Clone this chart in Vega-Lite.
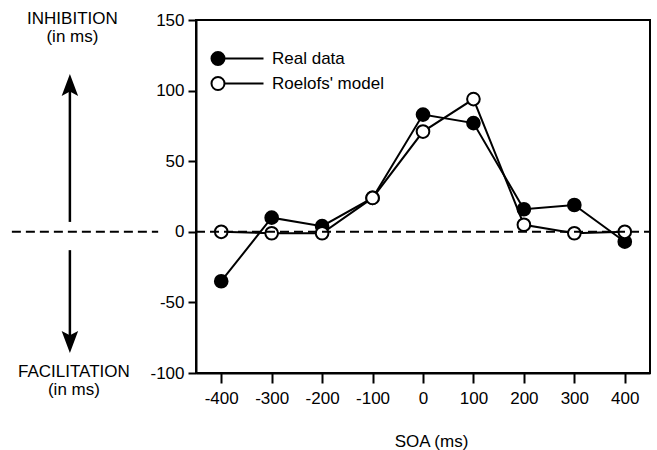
{
  "$schema": "https://vega.github.io/schema/vega-lite/v6.json",
  "width": 454,
  "height": 353,
  "autosize": {"type": "none"},
  "padding": {"left": 196, "top": 20, "right": 7, "bottom": 77},
  "background": "white",
  "config": {
    "view": {"stroke": "black", "strokeWidth": 2},
    "font": "Liberation Sans",
    "axis": {
      "grid": false,
      "domainColor": "black",
      "domainWidth": 2,
      "tickColor": "black",
      "tickWidth": 2,
      "labelColor": "black",
      "labelFont": "Liberation Sans",
      "labelFontSize": 17,
      "titleColor": "black",
      "titleFont": "Liberation Sans",
      "titleFontWeight": "normal"
    }
  },
  "data": {
    "values": [
      {"soa": -400, "value": -35, "series": "Real data"},
      {"soa": -300, "value": 10, "series": "Real data"},
      {"soa": -200, "value": 4, "series": "Real data"},
      {"soa": -100, "value": 24, "series": "Real data"},
      {"soa": 0, "value": 83, "series": "Real data"},
      {"soa": 100, "value": 77, "series": "Real data"},
      {"soa": 200, "value": 16, "series": "Real data"},
      {"soa": 300, "value": 19, "series": "Real data"},
      {"soa": 400, "value": -7, "series": "Real data"},
      {"soa": -400, "value": 0, "series": "Roelofs' model"},
      {"soa": -300, "value": -1, "series": "Roelofs' model"},
      {"soa": -200, "value": -1, "series": "Roelofs' model"},
      {"soa": -100, "value": 24, "series": "Roelofs' model"},
      {"soa": 0, "value": 71, "series": "Roelofs' model"},
      {"soa": 100, "value": 94, "series": "Roelofs' model"},
      {"soa": 200, "value": 5, "series": "Roelofs' model"},
      {"soa": 300, "value": -1, "series": "Roelofs' model"},
      {"soa": 400, "value": 0, "series": "Roelofs' model"}
    ]
  },
  "layer": [
    {
      "mark": {"type": "line", "color": "black", "strokeWidth": 2},
      "encoding": {
        "x": {
          "field": "soa", "type": "quantitative",
          "scale": {"domain": [-450, 450], "nice": false, "zero": false},
          "axis": {
            "values": [-400, -300, -200, -100, 0, 100, 200, 300, 400],
            "labelExpr": "replace(datum.label, '\u2212', '-')",
            "tickSize": 10,
            "labelPadding": 7,
            "title": "SOA  (ms)",
            "titleFontSize": 17,
            "titleX": 235,
            "titleY": 73,
            "titleBaseline": "alphabetic",
            "titleAlign": "center"
          }
        },
        "y": {
          "field": "value", "type": "quantitative",
          "scale": {"domain": [-100, 150], "nice": false, "zero": false},
          "axis": {
            "values": [-100, -50, 0, 50, 100, 150],
            "labelExpr": "replace(datum.label, '\u2212', '-')",
            "tickSize": 8,
            "labelPadding": 4,
            "title": null
          }
        },
        "detail": {"field": "series"}
      }
    },
    {
      "mark": {"type": "point", "filled": true, "opacity": 1, "size": 160, "stroke": "black", "strokeWidth": 2},
      "encoding": {
        "x": {"field": "soa", "type": "quantitative"},
        "y": {"field": "value", "type": "quantitative"},
        "fill": {
          "field": "series", "type": "nominal",
          "scale": {"domain": ["Real data", "Roelofs' model"], "range": ["black", "white"]},
          "legend": {
            "title": null,
            "orient": "none",
            "legendX": 13.5,
            "legendY": 30,
            "padding": 0,
            "symbolType": "M-1,0 A1,1 0 1,0 1,0 A1,1 0 1,0 -1,0 Z M1,0 L7,0",
            "symbolSize": 169,
            "symbolStrokeColor": "black",
            "symbolStrokeWidth": 2,
            "symbolOpacity": 1,
            "labelOffset": 45.5,
            "labelFont": "Liberation Sans",
            "labelFontSize": 17,
            "labelColor": "black",
            "rowPadding": 4
          }
        }
      }
    },
    {
      "data": {"values": [{"k": 1}]},
      "mark": {"type": "rule", "color": "black", "strokeWidth": 2, "strokeDash": [9, 5]},
      "encoding": {
        "x": {"datum": -815, "type": "quantitative"},
        "x2": {"datum": -525},
        "y": {"datum": 0, "type": "quantitative"}
      }
    },
    {
      "data": {"values": [{"k": 1}]},
      "mark": {"type": "rule", "color": "black", "strokeWidth": 2, "strokeDash": [9, 5]},
      "encoding": {
        "x": {"datum": -450, "type": "quantitative"},
        "x2": {"datum": 450},
        "y": {"datum": 0, "type": "quantitative"}
      }
    },
    {
      "data": {"values": [{"k": 1}]},
      "mark": {"type": "rule", "color": "black", "strokeWidth": 2.5},
      "encoding": {
        "x": {"datum": -700, "type": "quantitative"},
        "y": {"datum": 7, "type": "quantitative"},
        "y2": {"datum": 100}
      }
    },
    {
      "data": {"values": [{"k": 1}]},
      "mark": {"type": "rule", "color": "black", "strokeWidth": 2.5},
      "encoding": {
        "x": {"datum": -700, "type": "quantitative"},
        "y": {"datum": -13, "type": "quantitative"},
        "y2": {"datum": -74}
      }
    },
    {
      "data": {"values": [{"k": 1}]},
      "mark": {"type": "point", "filled": true, "color": "black", "opacity": 1, "size": 484,
               "shape": "M0,-1 L0.75,1 L0,0.6 L-0.75,1 Z"},
      "encoding": {
        "x": {"datum": -700, "type": "quantitative"},
        "y": {"datum": 104, "type": "quantitative"}
      }
    },
    {
      "data": {"values": [{"k": 1}]},
      "mark": {"type": "point", "filled": true, "color": "black", "opacity": 1, "size": 484,
               "shape": "M0,1 L0.75,-1 L0,-0.6 L-0.75,-1 Z"},
      "encoding": {
        "x": {"datum": -700, "type": "quantitative"},
        "y": {"datum": -78, "type": "quantitative"}
      }
    },
    {
      "data": {"values": [{"k": 1}]},
      "mark": {"type": "text", "text": ["INHIBITION", "(in ms)"], "font": "Liberation Sans",
               "fontSize": 17, "color": "black", "align": "center", "baseline": "alphabetic", "lineHeight": 18},
      "encoding": {
        "x": {"datum": -695, "type": "quantitative"},
        "y": {"datum": 147.5, "type": "quantitative"}
      }
    },
    {
      "data": {"values": [{"k": 1}]},
      "mark": {"type": "text", "text": ["FACILITATION", "(in ms)"], "font": "Liberation Sans",
               "fontSize": 17, "color": "black", "align": "center", "baseline": "alphabetic", "lineHeight": 18},
      "encoding": {
        "x": {"datum": -692, "type": "quantitative"},
        "y": {"datum": -103, "type": "quantitative"}
      }
    }
  ]
}
